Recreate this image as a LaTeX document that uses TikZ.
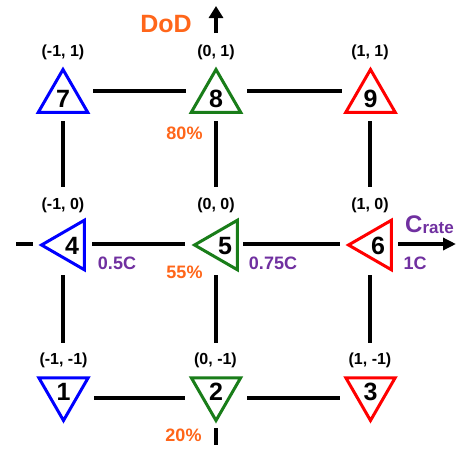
\documentclass[tikz,border=0pt]{standalone}
\usepackage{fontspec}
\setmainfont{Liberation Sans}
\usetikzlibrary{shapes.geometric,arrows.meta}
\definecolor{tblue}{RGB}{0,0,255}
\definecolor{tgreen}{RGB}{25,125,25}
\definecolor{tred}{RGB}{255,0,0}
\definecolor{torange}{RGB}{255,102,26}
\definecolor{tpurple}{RGB}{112,48,160}
\begin{document}
\begin{tikzpicture}[x=1pt,y=-1pt,
  tri/.style={regular polygon, regular polygon sides=3, minimum size=57pt, inner sep=0pt, draw, line width=3pt},
  triup/.style={tri},
  trileft/.style={tri, shape border rotate=90},
  tridown/.style={tri, shape border rotate=180},
  num/.style={font=\fontsize{25}{25}\selectfont\bfseries, inner sep=0pt},
  coordlbl/.style={font=\fontsize{16}{16}\selectfont\bfseries, inner sep=0pt},
  pct/.style={font=\fontsize{18}{18}\selectfont\bfseries, text=torange, inner sep=0pt},
  ratelbl/.style={font=\fontsize{18}{18}\selectfont\bfseries, text=tpurple, inner sep=0pt},
  gridthin/.style={line width=3.2pt},
  gridthick/.style={line width=4.5pt},
]
\fill[white] (0,0) rectangle (460,450);
\useasboundingbox (0,0) rectangle (460,450);

% grid points
\coordinate (g7) at (63,91);  \coordinate (g8) at (216,91);  \coordinate (g9) at (370,91);
\coordinate (g4) at (63,244); \coordinate (g5) at (216,244); \coordinate (g6) at (370,244);
\coordinate (g1) at (63,398); \coordinate (g2) at (216,398); \coordinate (g3) at (370,398);

% triangles
\node[triup, tblue]  (t7) at (63,98) {};
\node[triup, tgreen] (t8) at (216,98) {};
\node[triup, tred]   (t9) at (370.5,98) {};
\node[trileft, tblue]  (t4) at (70,245) {};
\node[trileft, tgreen] (t5) at (223,245) {};
\node[trileft, tred]   (t6) at (377,245) {};
\node[tridown, tblue]  (t1) at (63.5,392) {};
\node[tridown, tgreen] (t2) at (216,392) {};
\node[tridown, tred]   (t3) at (370.5,392) {};

% numbers
\node[num] (n7) at (63,99) {7};
\node[num] (n8) at (216,99) {8};
\node[num] (n9) at (370.5,99) {9};
\node[num] (n4) at (72,246) {4};
\node[num] (n5) at (225,246) {5};
\node[num] (n6) at (378,246) {6};
\node[num] (n1) at (63.5,392) {1};
\node[num] (n2) at (216,392) {2};
\node[num] (n3) at (370.5,392) {3};

% coordinate labels
\node[coordlbl] (c7) at (63,52) {(-1, 1)};
\node[coordlbl] (c8) at (216,52) {(0, 1)};
\node[coordlbl] (c9) at (370,52) {(1, 1)};
\node[coordlbl] (c4) at (63,205) {(-1, 0)};
\node[coordlbl] (c5) at (216,205) {(0, 0)};
\node[coordlbl] (c6) at (370,205) {(1, 0)};
\node[coordlbl] (c1) at (63.5,360) {(-1, -1)};
\node[coordlbl] (c2) at (215.5,360) {(0, -1)};
\node[coordlbl] (c3) at (370,360) {(1, -1)};

% horizontal lines
\draw[gridthin] ([xshift=30pt]g7) -- ([xshift=-30pt]g8);
\draw[gridthin] ([xshift=31pt]g8) -- ([xshift=-28pt]g9);
\draw[gridthick] ([xshift=-47pt]g4) -- ([xshift=-30pt]g4);
\draw[gridthick] ([xshift=29pt]g4) -- ([xshift=-31pt]g5);
\draw[gridthick] ([xshift=27pt]g5) -- ([xshift=-30pt]g6);
\coordinate (crateend) at ([xshift=86pt]g6);
\draw[gridthick, -{Triangle[length=13pt,width=12pt]}] ([xshift=28pt]g6) -- (crateend);
\draw[gridthin] ([xshift=31pt]g1) -- ([xshift=-31pt]g2);
\draw[gridthin] ([xshift=31pt]g2) -- ([xshift=-30pt]g3);

% vertical lines
\draw[gridthin] ([yshift=-30pt]g7) -- ([yshift=57pt]g4);
\draw[gridthick] ([yshift=-30pt]g8) -- ([yshift=57pt]g5);
\draw[gridthin] ([yshift=-30pt]g9) -- ([yshift=57pt]g6);
\draw[gridthin] ([yshift=-31pt]g4) -- ([yshift=55pt]g1);
\draw[gridthick] ([yshift=-31pt]g5) -- ([yshift=55pt]g2);
\draw[gridthin] ([yshift=-31pt]g6) -- ([yshift=55pt]g3);
\coordinate (dodend) at ([yshift=85pt]g8);
\draw[gridthick, -{Triangle[length=12pt,width=14pt]}] ([yshift=58pt]g8) -- (dodend);
\draw[gridthick] ([yshift=-30pt]g2) -- ([yshift=-47pt]g2);

% axis labels
\node[font=\fontsize{25}{25}\selectfont\bfseries, text=torange, inner sep=0pt] (dod) at (166,24) {DoD};
\node[text=tpurple, inner sep=0pt, anchor=base west] (crate) at (405,232)
  {\bfseries\fontsize{24}{24}\selectfont C\raisebox{-1.5pt}{\fontsize{17}{17}\selectfont rate}};

% value labels
\node[pct] (p80) at (184.5,133) {80\%};
\node[pct] (p55) at (184.5,272) {55\%};
\node[pct] (p20) at (183.5,435) {20\%};
\node[ratelbl] (r05) at (117,263) {0.5C};
\node[ratelbl] (r075) at (273,263) {0.75C};
\node[ratelbl] (r1) at (415,263) {1C};
\end{tikzpicture}
\end{document}
